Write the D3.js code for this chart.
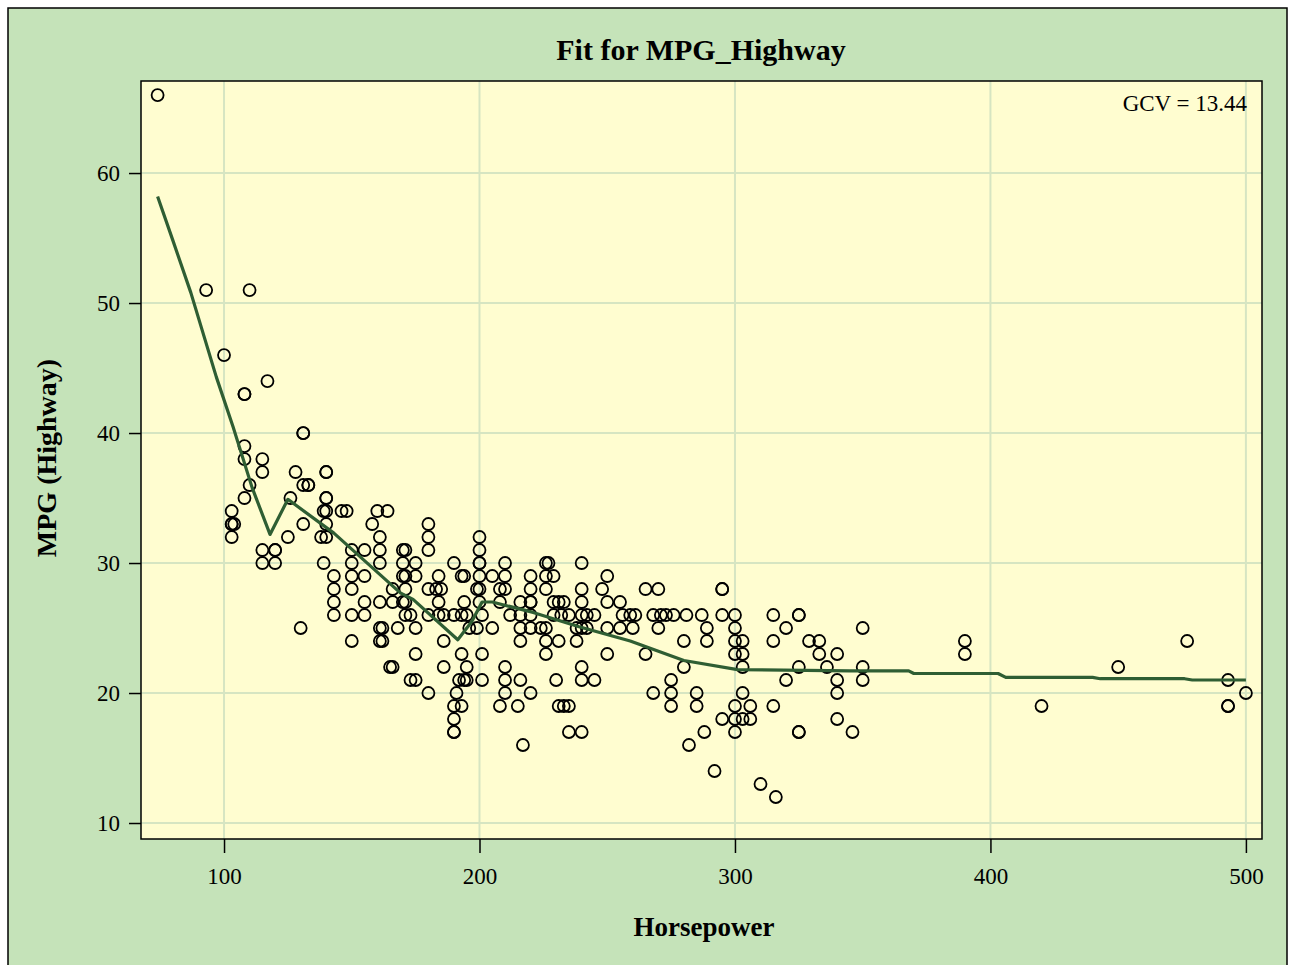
<!DOCTYPE html>
<html>
<head>
<meta charset="utf-8">
<script src="https://cdn.jsdelivr.net/npm/d3@7"></script>
<style>
  html, body { margin: 0; padding: 0; background: #ffffff; }
  svg text { font-family: "Liberation Serif", "DejaVu Serif", serif; fill: #000; }
</style>
</head>
<body>
<svg id="chart" width="1291" height="965"></svg>
<script>
// ---- data ----
const title = "Fit for MPG_Highway";
const xLabel = "Horsepower";
const yLabel = "MPG (Highway)";
const gcvLabel = "GCV = 13.44";
const xTicks = [100, 200, 300, 400, 500];
const yTicks = [10, 20, 30, 40, 50, 60];

// observations grouped by MPG level: horsepower values at that level
const obsMpg = [66, 51, 46, 44, 43, 40, 39, 38, 37, 36, 35, 34, 33, 32, 31, 30, 29, 28, 27, 26, 25, 24, 23, 22, 21, 20, 19, 18, 17, 16, 14, 13, 12];
const obsHp = [
  [74],
  [93, 110],
  [100],
  [117],
  [108, 108],
  [131, 131],
  [108],
  [108, 115],
  [115, 128, 140, 140],
  [110, 131, 133, 133],
  [108, 126, 140, 140],
  [103, 139, 140, 146, 148, 160, 164],
  [103, 103, 104, 131, 140, 158, 180],
  [103, 125, 138, 140, 161, 180, 200],
  [115, 120, 120, 150, 155, 161, 170, 171, 180, 200],
  [115, 120, 139, 150, 161, 170, 175, 190, 200, 200, 210, 226, 227, 240],
  [143, 150, 155, 170, 171, 175, 184, 193, 194, 200, 205, 210, 220, 226, 229, 250],
  [143, 150, 166, 171, 180, 183, 185, 199, 200, 208, 210, 220, 226, 240, 248, 265, 270, 295, 295],
  [143, 155, 161, 166, 170, 171, 184, 194, 200, 208, 216, 220, 220, 229, 231, 233, 240, 250, 255],
  [143, 150, 155, 171, 173, 180, 184, 186, 190, 193, 195, 201, 212, 216, 220, 229, 232, 235, 240, 242, 245, 256, 259, 261, 268, 271, 273, 276, 281, 287, 295, 300, 315, 325, 325],
  [130, 161, 162, 168, 175, 196, 199, 205, 216, 220, 224, 226, 238, 240, 242, 250, 255, 260, 270, 289, 300, 320, 350],
  [150, 161, 162, 186, 216, 226, 231, 238, 280, 289, 300, 303, 315, 329, 333, 390, 477],
  [175, 193, 201, 226, 250, 265, 300, 303, 333, 340, 390],
  [165, 166, 186, 195, 210, 240, 280, 303, 325, 336, 350, 450],
  [173, 175, 192, 194, 195, 201, 210, 216, 230, 240, 245, 275, 320, 340, 350, 493],
  [180, 191, 210, 220, 268, 275, 285, 303, 340, 500],
  [190, 193, 208, 215, 231, 233, 235, 275, 285, 300, 306, 315, 420, 493, 493],
  [190, 295, 300, 303, 306, 340],
  [190, 190, 235, 240, 288, 300, 325, 325, 346],
  [217, 282],
  [292],
  [310],
  [316]
];

// fitted curve
const fitHp  = [74, 80, 87, 97, 103.5, 111, 118, 125, 143, 169, 174, 191.5, 197, 201, 205, 221, 239, 259, 280, 301, 345, 368, 370, 403, 406, 440, 443, 476, 479, 500];
const fitMpg = [58.2, 54.8, 50.8, 44.3, 40.5, 35.8, 32.2, 34.9, 32.3, 27.7, 27.2, 24.1, 25.5, 27.0, 27.0, 26.2, 25.1, 24.0, 22.5, 21.8, 21.7, 21.7, 21.5, 21.5, 21.2, 21.2, 21.1, 21.1, 21.0, 21.0];

// ---- drawing ----
const svg = d3.select("#chart");
const plot = { left: 141, right: 1262, top: 81, bottom: 839 };

// outer background + border
svg.append("rect").attr("x", 8).attr("y", 8).attr("width", 1279).attr("height", 965)
  .attr("fill", "#c5e3b9").attr("stroke", "#000").attr("stroke-width", 1.5);

const x = d3.scaleLinear().domain([67.5, 506.3]).range([plot.left, plot.right]);
const y = d3.scaleLinear().domain([8.77, 67.08]).range([plot.bottom, plot.top]);

// plot wall
svg.append("rect").attr("x", plot.left).attr("y", plot.top)
  .attr("width", plot.right - plot.left).attr("height", plot.bottom - plot.top)
  .attr("fill", "#fffdd0");

// grid lines
const grid = svg.append("g");
grid.selectAll("line.vx").data(xTicks).join("line")
  .attr("x1", d => x(d)).attr("x2", d => x(d))
  .attr("y1", plot.top).attr("y2", plot.bottom)
  .attr("stroke", "#d6e5c2").attr("stroke-width", 2);
grid.selectAll("line.hy").data(yTicks).join("line")
  .attr("y1", d => y(d)).attr("y2", d => y(d))
  .attr("x1", plot.left).attr("x2", plot.right)
  .attr("stroke", "#d6e5c2").attr("stroke-width", 2);

// points
const pts = [];
obsMpg.forEach((m, i) => obsHp[i].forEach(h => pts.push({ hp: h, mpg: m })));
svg.append("g").selectAll("circle").data(pts).join("circle")
  .attr("cx", d => x(d.hp)).attr("cy", d => y(d.mpg)).attr("r", 6)
  .attr("fill", "none").attr("stroke", "#000").attr("stroke-width", 1.8);

// fit line
const fitData = fitHp.map((h, i) => [h, fitMpg[i]]);
svg.append("path").datum(fitData)
  .attr("d", d3.line().x(d => x(d[0])).y(d => y(d[1])))
  .attr("fill", "none").attr("stroke", "#2f5e33").attr("stroke-width", 3.2)
  .attr("stroke-linejoin", "round");

// frame
svg.append("rect").attr("x", plot.left).attr("y", plot.top)
  .attr("width", plot.right - plot.left).attr("height", plot.bottom - plot.top)
  .attr("fill", "none").attr("stroke", "#000").attr("stroke-width", 1.5);

// axes
const xAxis = svg.append("g").attr("transform", `translate(0,${plot.bottom})`)
  .call(d3.axisBottom(x).tickValues(xTicks).tickSize(14).tickPadding(15).tickFormat(d3.format("d")));
const yAxis = svg.append("g").attr("transform", `translate(${plot.left},0)`)
  .call(d3.axisLeft(y).tickValues(yTicks).tickSize(12).tickPadding(9).tickFormat(d3.format("d")));
[xAxis, yAxis].forEach(a => {
  a.select(".domain").remove();
  a.selectAll(".tick line").attr("stroke", "#000").attr("stroke-width", 1.5);
  a.selectAll(".tick text").style("font-family", '"Liberation Serif", serif').style("font-size", "23px").attr("fill", "#000");
});

// labels
svg.append("text").attr("x", 701).attr("y", 60).attr("text-anchor", "middle")
  .style("font-size", "30px").style("font-weight", "bold").text(title);
svg.append("text").attr("x", 704).attr("y", 936).attr("text-anchor", "middle")
  .style("font-size", "27px").style("font-weight", "bold").text(xLabel);
svg.append("text").attr("transform", "translate(56,458) rotate(-90)").attr("text-anchor", "middle")
  .style("font-size", "28px").style("font-weight", "bold").text(yLabel);
svg.append("text").attr("x", 1247).attr("y", 111).attr("text-anchor", "end")
  .style("font-size", "23px").text(gcvLabel);
</script>
</body>
</html>
